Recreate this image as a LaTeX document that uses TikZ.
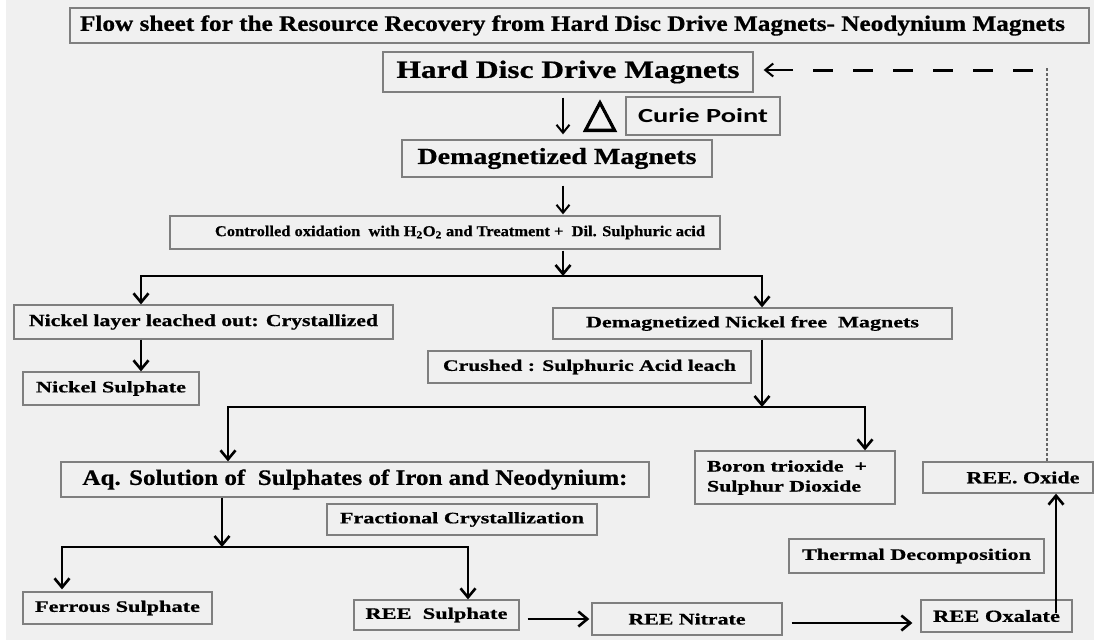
\documentclass[tikz,border=0pt]{standalone}
\usepackage{fontspec}
\setmainfont{Liberation Serif}[BoldFeatures={FakeBold=0.6}]
\newfontfamily\curiefont{Carlito}
\newfontfamily\deltafont{DejaVu Sans}[FakeBold=2.5]
\usetikzlibrary{arrows.meta}
\definecolor{bgc}{HTML}{F0F0F0}
\definecolor{bdc}{HTML}{7F7F7F}
\definecolor{dotc}{HTML}{666666}
\newcommand\fitx[2]{\resizebox{#1}{\height}{#2}}
\newcommand\fs[1]{\fontsize{#1}{#1}\selectfont\bfseries}
\begin{document}
\begin{tikzpicture}[x=1pt,y=-1pt,
  box/.style={draw=bdc, line width=1.3pt, fill=bgc, inner sep=0pt, rectangle},
  arr/.style={line width=2.6pt, -{Straight Barb[length=9pt,width=15pt]}},
  arrboth/.style={line width=2.6pt, {Straight Barb[length=9pt,width=15pt]}-{Straight Barb[length=9pt,width=15pt]}},
  thinarr/.style={line width=2pt, -{Straight Barb[length=8pt,width=13pt]}},
  dashline/.style={line width=3pt, dash pattern=on 20pt off 20pt},
  dotline/.style={draw=dotc, line width=1.3pt, dash pattern=on 3pt off 2pt}]
\useasboundingbox (0,0) rectangle (1094,640);
\fill[white] (0,0) rectangle (1094,640);
\fill[bgc] (6,0) rectangle (1094,640);

% boxes
\node[box, minimum width=1019pt, minimum height=35pt] (title) at (579.5,25.5)
  {\hspace*{-14pt}\fitx{985pt}{\fs{22}Flow sheet for the Resource Recovery from Hard Disc Drive Magnets- Neodynium Magnets}};
\node[box, minimum width=370pt, minimum height=40pt] (hdd) at (568,72)
  {\fitx{343pt}{\fs{25}Hard Disc Drive Magnets}};
\node[box, minimum width=154pt, minimum height=38pt] (curie) at (703,116)
  {\fitx{130pt}{\curiefont\fontsize{20}{20}\selectfont\bfseries Curie Point}};
\node[inner sep=0pt] (delta) at (600,116) {\resizebox{33pt}{26pt}{\deltafont △}};
\node[box, minimum width=310pt, minimum height=37pt] (demag) at (557,158.5)
  {\fitx{279pt}{\fs{23}Demagnetized Magnets}};
\node[box, minimum width=550pt, minimum height=33pt] (ctrl) at (445,232.5)
  {\hspace*{30pt}\fitx{490pt}{\fs{15}Controlled oxidation\ \ with H\textsubscript{2}O\textsubscript{2} and Treatment +\ \ Dil. Sulphuric acid}};
\node[box, minimum width=379pt, minimum height=34pt] (nl) at (203.5,322)
  {\fitx{349pt}{\fs{17}Nickel layer leached out: Crystallized}};
\node[box, minimum width=399pt, minimum height=31pt] (dn) at (752.5,323.5)
  {\fitx{333pt}{\fs{16}Demagnetized Nickel free\ \ Magnets}};
\node[box, minimum width=176pt, minimum height=33pt] (ns) at (111,388.5)
  {\fitx{150pt}{\fs{16}Nickel Sulphate}};
\node[box, minimum width=323pt, minimum height=32pt] (cr) at (589.5,367)
  {\fitx{293pt}{\fs{16}Crushed : Sulphuric Acid leach}};
\node[box, minimum width=588pt, minimum height=35pt] (aq) at (355,479.5)
  {\fitx{545pt}{\fs{22}Aq. Solution of\ \ Sulphates of Iron and Neodynium:}};
\node[box, minimum width=200pt, minimum height=53pt] (boron) at (795,477.5)
  {\hspace*{-16pt}\fitx{160pt}{\fontsize{16}{20}\selectfont\bfseries\begin{tabular}{@{}l@{}}Boron trioxide\ \ +\\Sulphur Dioxide\end{tabular}}};
\node[box, minimum width=270pt, minimum height=31pt] (fc) at (462,519.5)
  {\fitx{244pt}{\fs{16}Fractional Crystallization}};
\node[box, minimum width=170pt, minimum height=31pt] (oxide) at (1008,477.5)
  {\hspace*{30pt}\fitx{113pt}{\fs{17}REE. Oxide}};
\node[box, minimum width=255pt, minimum height=34pt] (td) at (916.5,556)
  {\fitx{229pt}{\fs{16}Thermal Decomposition}};
\node[box, minimum width=189pt, minimum height=32pt] (fe) at (117.5,608)
  {\fitx{165pt}{\fs{16}Ferrous Sulphate}};
\node[box, minimum width=165pt, minimum height=30pt] (rs) at (436.5,615)
  {\fitx{142pt}{\fs{16}REE\ \ Sulphate}};
\node[box, minimum width=190pt, minimum height=32pt] (rn) at (687,619)
  {\fitx{117pt}{\fs{16}REE Nitrate}};
\node[box, minimum width=151pt, minimum height=32pt] (ro) at (996.5,616)
  {\fitx{127pt}{\fs{17}REE Oxalate}};

% helper coordinates
\coordinate (ax) at (563,0);
\coordinate (j1) at (563,276);
\coordinate (bx1) at (141,0);
\coordinate (bx2) at (762,0);
\coordinate (j2) at (762,407);
\coordinate (cx1) at (228,0);
\coordinate (cx2) at (865,0);
\coordinate (j3) at (222,547);
\coordinate (dx1) at (62,0);
\coordinate (dx2) at (468,0);
\coordinate (oxs) at (1056,613);
\coordinate (fbtop) at (1047,68);
\coordinate (dl) at (813,70);
\coordinate (dr) at (1037,70);
\coordinate (ds) at (793,70);

% connectors
\draw[thinarr, shorten <=5pt, shorten >=5pt] (hdd.south -| ax) -- (demag.north -| ax);
\draw[thinarr, shorten <=8pt, shorten >=1pt] (demag.south -| ax) -- (ctrl.north -| ax);
\draw[arr, shorten <=1pt] (ctrl.south -| ax) -- (j1);
\draw[arrboth] (nl.north -| bx1) |- (j1) -| (dn.north -| bx2);
\draw[arr] (nl.south -| bx1) -- (ns.north -| bx1);
\draw[arr] (dn.south -| bx2) -- (j2);
\draw[arrboth] (aq.north -| cx1) |- (j2) -| (boron.north -| cx2);
\draw[arr] (aq.south -| j3) -- (j3);
\draw[arrboth, shorten <=2pt] (fe.north -| dx1) |- (j3) -| (rs.north -| dx2);
\draw[arr, shorten <=8pt, shorten >=2pt] (rs.east |- rn) -- (rn.west);
\draw[arr, shorten <=9pt, shorten >=8pt] ([yshift=-4pt]rn.east) -- ([yshift=-4pt]rn.east -| ro.west);
\draw[arr] (oxs) -- (oxide.south -| oxs);
\draw[dotline] (fbtop) -- (oxide.north -| fbtop);
\draw[dashline] (dl) -- (dr);
\draw[thinarr, shorten >=10pt] (ds) -- (hdd.east |- ds);
\end{tikzpicture}
\end{document}
